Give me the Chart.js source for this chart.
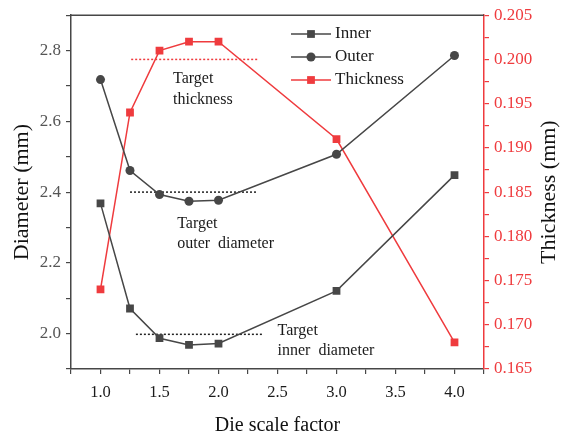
<!DOCTYPE html>
<html>
<head>
<meta charset="utf-8">
<script src="https://cdn.jsdelivr.net/npm/chart.js@4.4.0/dist/chart.umd.min.js"></script>
<style>
  html, body { margin: 0; padding: 0; background: #fff; }
</style>
</head>
<body>
<canvas id="dieChart" width="570" height="438"></canvas>
<script>
// values
const scaleFactors = [1.0, 1.25, 1.5, 1.75, 2.0, 3.0, 4.0];
const innerDiameter = [2.368, 2.071, 1.987, 1.968, 1.972, 2.121, 2.448];
const outerDiameter = [2.718, 2.461, 2.393, 2.374, 2.377, 2.507, 2.786];
const thickness = [0.174, 0.194, 0.201, 0.202, 0.202, 0.191, 0.168];

// target lines (x from / to, y level)
const targetThicknessX = [1.26, 2.33];
const targetThicknessY = 0.200;
const targetOuterX = [1.25, 2.32];
const targetOuterY = 2.40;
const targetInnerX = [1.30, 2.37];
const targetInnerY = 1.998;

const seriesNames = ['Inner', 'Outer', 'Thickness'];

const GRAY = '#474747';
const RED = '#ef3b3e';
const FONT = "'Liberation Serif', 'Times New Roman', serif";

function toPoints(xs, ys) {
    return xs.map((x, i) => ({ x: x, y: ys[i] }));
}

function flatLine(xs, y) {
    return xs.map(x => ({ x: x, y: y }));
}

// text labels, top frame line, the custom legend and right title
const extrasPlugin = {
    id: 'extras',
    afterDatasetsDraw(chart) {
        const ctx = chart.ctx;
        const xs = chart.scales.x;
        const ys = chart.scales.y;
        const area = chart.chartArea;

        ctx.save();
        // top frame
        ctx.strokeStyle = GRAY;
        ctx.lineWidth = 1.5;
        ctx.beginPath();
        ctx.moveTo(area.left, area.top);
        ctx.lineTo(area.right, area.top);
        ctx.stroke();

        ctx.fillStyle = '#1a1a1a';
        ctx.font = '16px ' + FONT;
        ctx.textAlign = 'left';
        ctx.textBaseline = 'middle';
        const notes = [
            { x: 1.615, y: 2.719, lines: ['Target', 'thickness'] },
            { x: 1.65, y: 2.311, lines: ['Target', 'outer  diameter'] },
            { x: 2.50, y: 2.008, lines: ['Target', 'inner  diameter'] }
        ];
        notes.forEach(n => {
            const px = xs.getPixelForValue(n.x);
            const py = ys.getPixelForValue(n.y);
            n.lines.forEach((t, i) => ctx.fillText(t, px, py + i * 20.5));
        });

        // legend
        const colors = [GRAY, GRAY, RED];
        const styles = ['rect', 'circle', 'rect'];
        const radii = [5.5, 4.5, 5.5];
        ctx.font = '17px ' + FONT;
        seriesNames.forEach((name, i) => {
            const y = 34 + i * 23;
            ctx.strokeStyle = colors[i];
            ctx.lineWidth = 1.5;
            ctx.beginPath();
            ctx.moveTo(291, y);
            ctx.lineTo(331, y);
            ctx.stroke();
            ctx.fillStyle = colors[i];
            Chart.helpers.drawPoint(ctx, { pointStyle: styles[i], radius: radii[i], borderWidth: 0, rotation: 0 }, 311, y);
            ctx.fillStyle = '#1a1a1a';
            ctx.fillText(name, 335, y);
        });

        // right axis title reads bottom to top
        ctx.font = '22px ' + FONT;
        ctx.textAlign = 'center';
        ctx.translate(549, (area.top + area.bottom) / 2);
        ctx.rotate(-Math.PI / 2);
        ctx.fillStyle = '#111';
        ctx.fillText('Thickness (mm)', 0, 0);
        ctx.restore();
    }
};

const ctx = document.getElementById('dieChart').getContext('2d');
const dieChart = new Chart(ctx, {
    type: 'scatter',
    data: {
        datasets: [
            {
                label: 'Inner',
                data: toPoints(scaleFactors, innerDiameter),
                yAxisID: 'y',
                showLine: true,
                borderColor: GRAY,
                backgroundColor: GRAY,
                borderWidth: 1.5,
                pointStyle: 'rect',
                pointRadius: 5.5,
                pointBorderWidth: 0
            },
            {
                label: 'Outer',
                data: toPoints(scaleFactors, outerDiameter),
                yAxisID: 'y',
                showLine: true,
                borderColor: GRAY,
                backgroundColor: GRAY,
                borderWidth: 1.5,
                pointStyle: 'circle',
                pointRadius: 4.5,
                pointBorderWidth: 0
            },
            {
                label: 'Thickness',
                data: toPoints(scaleFactors, thickness),
                yAxisID: 'y1',
                showLine: true,
                borderColor: RED,
                backgroundColor: RED,
                borderWidth: 1.5,
                pointStyle: 'rect',
                pointRadius: 5.5,
                pointBorderWidth: 0
            },
            {
                label: 'target thickness',
                data: flatLine(targetThicknessX, targetThicknessY),
                yAxisID: 'y1',
                showLine: true,
                borderColor: RED,
                borderWidth: 1.5,
                borderDash: [2, 2],
                pointRadius: 0
            },
            {
                label: 'target outer',
                data: flatLine(targetOuterX, targetOuterY),
                yAxisID: 'y',
                showLine: true,
                borderColor: '#222',
                borderWidth: 1.5,
                borderDash: [2, 2],
                pointRadius: 0
            },
            {
                label: 'target inner',
                data: flatLine(targetInnerX, targetInnerY),
                yAxisID: 'y',
                showLine: true,
                borderColor: '#222',
                borderWidth: 1.5,
                borderDash: [2, 2],
                pointRadius: 0
            }
        ]
    },
    options: {
        responsive: false,
        animation: false,
        layout: { padding: 0 },
        plugins: {
            legend: { display: false },
            tooltip: { enabled: false }
        },
        scales: {
            x: {
                type: 'linear',
                position: 'bottom',
                min: 0.75,
                max: 4.25,
                afterFit: function (scale) { scale.height = 69; },
                ticks: {
                    stepSize: 0.25,
                    autoSkip: false,
                    maxRotation: 0,
                    padding: 9,
                    color: '#1a1a1a',
                    font: { family: FONT, size: 16.5 },
                    callback: function (v) {
                        return Math.abs(v * 2 - Math.round(v * 2)) < 1e-6 ? v.toFixed(1) : '';
                    }
                },
                grid: { drawOnChartArea: false, drawTicks: true, tickLength: 5, color: GRAY, lineWidth: 1.2 },
                border: { color: GRAY, width: 1.5 },
                title: {
                    display: true,
                    text: 'Die scale factor',
                    color: '#111',
                    font: { family: FONT, size: 20 },
                    padding: { top: 14, bottom: 0 }
                }
            },
            y: {
                type: 'linear',
                position: 'left',
                min: 1.9,
                max: 2.9,
                afterFit: function (scale) { scale.width = 71; },
                ticks: {
                    stepSize: 0.1,
                    autoSkip: false,
                    padding: 5,
                    color: '#555',
                    font: { family: FONT, size: 17 },
                    callback: function (v) {
                        return Math.round(v * 10) % 2 === 0 ? v.toFixed(1) : '';
                    }
                },
                grid: { drawOnChartArea: false, drawTicks: true, tickLength: 5, color: GRAY, lineWidth: 1.2 },
                border: { color: GRAY, width: 1.5 },
                title: {
                    display: true,
                    text: 'Diameter (mm)',
                    color: '#111',
                    font: { family: FONT, size: 22 },
                    padding: { top: 9, bottom: 0 }
                }
            },
            y1: {
                type: 'linear',
                position: 'right',
                min: 0.165,
                max: 0.205,
                afterFit: function (scale) { scale.width = 86; },
                ticks: {
                    stepSize: 0.0025,
                    autoSkip: false,
                    padding: 5,
                    color: RED,
                    font: { family: FONT, size: 17 },
                    callback: function (v) {
                        return Math.round(v * 2000) % 2 === 0 ? v.toFixed(3) : '';
                    }
                },
                grid: { drawOnChartArea: false, drawTicks: true, tickLength: 5, color: RED, lineWidth: 1.2 },
                border: { color: RED, width: 1.5 }
            }
        }
    },
    plugins: [extrasPlugin]
});
</script>
</body>
</html>
